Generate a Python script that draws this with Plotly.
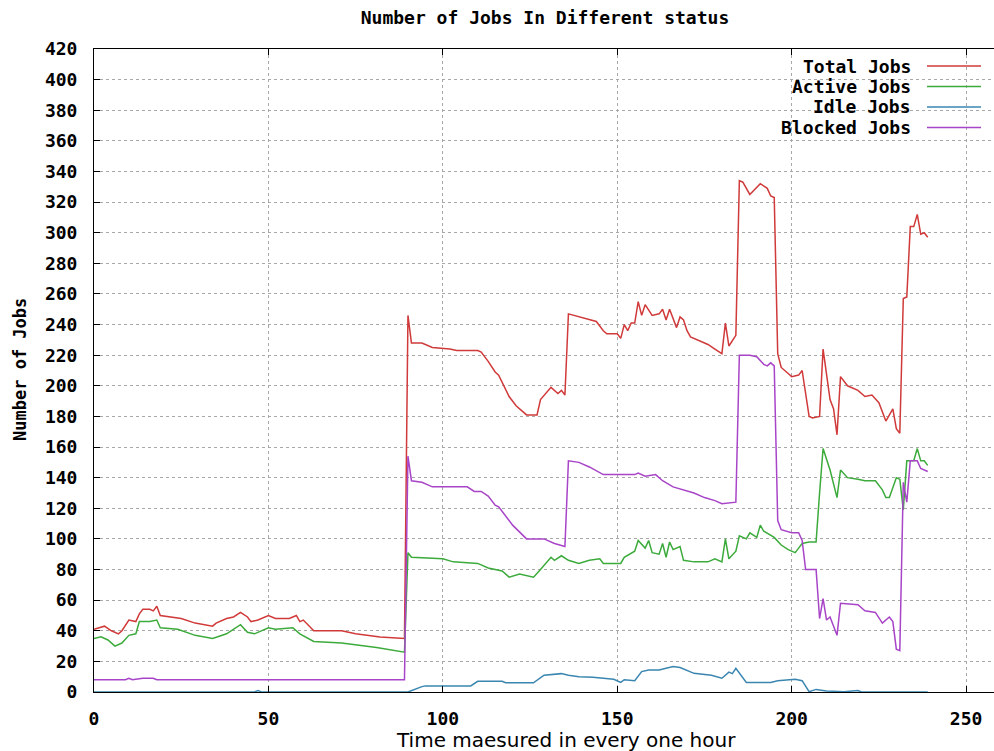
import plotly.graph_objects as go

# ---------------- data ----------------
total_x = [0,2,3,5,7,8,10,12,13,14,16,17,18,19,22,25,29,34,35,38,40,42,44,45,47,50,52,56,58,59,
           60,63,71,75,82,89,90,91,94,97,102,104,110,111,113,115,116,119,121,124,127,128,131,133,134,135,
           136,139,142,144,146,147,150,151,152,153,154,155,156,157,158,160,162,163,164,165,167,168,169,170,
           171,173,176,178,180,181,182,184,185,186,188,191,193,194,195,196,197,199,200,202,203,205,206,208,
           209,211,212,213,214,216,219,221,223,225,227,229,230,231,232,233,234,235,236,237,238,239]
total_y = [41,42,43,40,38,40,47,46,51,54,54,53,56,50,49,48,45,43,45,48,49,52,49,46,47,50,48,48,50,46,
           47,40,40,38,36,35,246,228,228,225,224,223,223,222,216,209,207,193,187,181,181,191,199,195,197,194,
           247,245,243,242,236,234,234,231,240,236,241,241,255,246,253,246,247,250,243,250,238,245,243,236,
           232,230,227,224,221,241,226,233,334,333,325,332,329,324,323,221,212,208,206,207,210,180,179,180,
           224,191,185,168,206,200,197,193,194,189,177,185,172,169,257,258,304,304,312,299,300,297]

active_x = [0,2,4,6,8,10,12,13,16,18,19,24,29,34,38,42,44,46,50,52,57,59,63,71,81,86,89,90,91,100,
            103,110,113,117,119,122,126,128,131,132,134,136,139,142,145,146,151,152,154,155,156,158,159,160,
            162,163,164,165,166,168,169,172,176,178,180,181,182,184,185,187,188,190,191,192,195,197,199,201,
            202,203,205,207,208,209,211,213,214,216,219,221,224,225,226,227,228,230,231,232,233,235,236,237,
            238,239]
active_y = [35,36,34,30,32,37,38,46,46,47,42,41,37,35,38,44,39,38,42,41,42,38,33,32,29,27,26,91,88,87,
            85,84,81,79,75,77,75,80,88,86,89,86,84,86,87,84,84,88,91,92,99,94,99,91,90,97,88,98,93,95,
            86,85,85,87,85,100,87,92,102,100,104,101,109,105,101,96,93,91,94,97,98,98,130,159,145,127,145,
            140,139,138,138,135,132,127,127,140,139,119,151,151,159,151,151,148]

idle_x = [0,46,47,48,90,91,94,95,108,110,117,118,126,129,134,136,139,143,149,151,152,155,157,159,162,
          166,168,172,177,180,182,183,184,187,190,194,196,201,203,205,207,210,215,219,220,239]
idle_y = [0,0,1,0,0,1,3.5,4,4,7,7,6,6,11,12,11,10,9.6,8.3,6.3,8,7.4,13.3,14.4,14.4,16.6,16,12.2,11,9,
          13,12,15.5,6.2,6,6.2,7.4,8.3,7.4,0.2,1.7,0.7,0.2,0.9,0,0]

blocked_x = [0,9,10,11,14,17,18,89,90,91,94,97,107,109,111,113,115,116,120,124,129,132,135,136,139,142,
             146,155,156,158,161,163,166,169,172,175,178,180,184,185,188,190,192,193,194,195,196,197,200,
             202,203,204,207,208,209,210,211,213,214,219,221,224,226,228,229,230,231,232,233,234,236,237,239]
blocked_y = [8,8,9,8,9,9,8,8,154,138,137,134,134,131,131,128,122,121,109,100,100,97,95,151,150,147,
             142,142,143,141,142,138,134,132,130,127,125,123,124,220,220,219,214,213,215,213,112,106,104,
             104,99,80,80,48,61,47,49,37,58,57,53,52,45,49,46,28,27,137,124,151,151,146,144]

series_names = ["Total Jobs", "Active Jobs", "Idle Jobs", "Blocked Jobs"]
series_colors = ["#d03a3a", "#3cab3c", "#3a86b0", "#a844c8"]
x_ticks = [0, 50, 100, 150, 200, 250]

GP_FONT = "DejaVu Sans Mono"
PLOT_H = 643.0
PLOT_W = 900.0

fig = go.Figure()
for xs, ys, name, col in zip([total_x, active_x, idle_x, blocked_x],
                             [total_y, active_y, idle_y, blocked_y],
                             series_names, series_colors):
    fig.add_trace(go.Scatter(x=xs, y=ys, mode="lines", name=name,
                             line=dict(color=col, width=1.5), showlegend=False))

# gnuplot-style key: text right-aligned, sample line to the right
for i, (name, col) in enumerate(zip(series_names, series_colors)):
    yy = 1 - (17 + i * 20.5) / PLOT_H
    fig.add_annotation(xref="x domain", yref="y domain", x=(913 - 94) / PLOT_W, y=yy,
                       xanchor="right", yanchor="middle", showarrow=False,
                       text=name, font=dict(family=GP_FONT, size=18, color="black", weight="bold"))
    fig.add_shape(type="line", xref="x domain", yref="y domain",
                  x0=(927 - 94) / PLOT_W, x1=(981 - 94) / PLOT_W, y0=yy, y1=yy,
                  line=dict(color=col, width=1.5))

# white key background hiding the grid
fig.add_shape(type="rect", xref="x domain", yref="y domain", x0=(778 - 94) / PLOT_W, x1=1.0,
              y0=1 - 88 / PLOT_H, y1=1, fillcolor="white", line=dict(width=0), layer="below")

# axis titles (placed like gnuplot does)
fig.add_annotation(xref="x domain", yref="y domain", x=(566 - 94) / PLOT_W, y=(692 - 740) / PLOT_H,
                   xanchor="center", yanchor="middle", showarrow=False,
                   text="Time maesured in every one hour",
                   font=dict(family="DejaVu Sans", size=20, color="black"))
fig.add_annotation(xref="x domain", yref="y domain", x=(20 - 94) / PLOT_W, y=(692 - 370) / PLOT_H,
                   xanchor="center", yanchor="middle", showarrow=False, textangle=-90,
                   text="Number of Jobs",
                   font=dict(family=GP_FONT, size=17, color="black", weight="bold"))

fig.update_layout(
    width=994, height=751,
    margin=dict(l=94, r=0, t=49, b=59),
    paper_bgcolor="white", plot_bgcolor="white",
    title=dict(text="Number of Jobs In Different status", x=545 / 994, xanchor="center",
               y=1 - 18 / 751, yanchor="middle", yref="container",
               font=dict(family=GP_FONT, size=18, color="black", weight="bold")),
    xaxis=dict(range=[0, 258], tickmode="array", tickvals=x_ticks,
               ticks="inside", ticklen=6, tickcolor="black", tickwidth=1,
               showline=True, linecolor="black", linewidth=1, mirror="allticks",
               showgrid=True, gridcolor="#a8a8a8", griddash="3px,3px", gridwidth=1,
               zeroline=False, ticklabelstandoff=10,
               tickfont=dict(family=GP_FONT, size=18, color="black", weight="bold")),
    yaxis=dict(range=[0, 420], tick0=0, dtick=20,
               ticks="inside", ticklen=6, tickcolor="black", tickwidth=1,
               showline=True, linecolor="black", linewidth=1, mirror=False,
               showgrid=True, gridcolor="#a8a8a8", griddash="3px,3px", gridwidth=1,
               zeroline=False, ticklabelstandoff=12,
               tickfont=dict(family=GP_FONT, size=18, color="black", weight="bold")),
)

fig.write_html("out.html")
